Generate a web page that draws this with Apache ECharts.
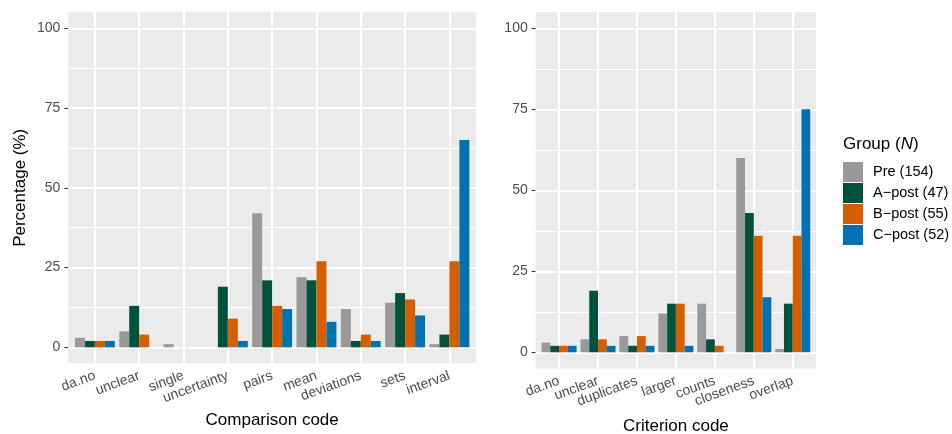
<!DOCTYPE html>
<html><head><meta charset="utf-8">
<script src="https://cdn.jsdelivr.net/npm/echarts@6/dist/echarts.min.js"></script>
<style>html,body{margin:0;padding:0;background:#fff}#c{width:952px;height:434px}</style>
</head><body><div id="c"></div>
<script>
// ---- data ----
const comparisonCodes = ['da.no','unclear','single','uncertainty','pairs','mean','deviations','sets','interval'];
const criterionCodes = ['da.no','unclear','duplicates','larger','counts','closeness','overlap'];
const groups = ['Pre (154)','A\u2212post (47)','B\u2212post (55)','C\u2212post (52)'];

const comparisonPre = [3, 5, 1, 0, 42, 22, 12, 14, 1];
const comparisonA   = [2, 13, 0, 19, 21, 21, 2, 17, 4];
const comparisonB   = [2, 4, 0, 9, 13, 27, 4, 15, 27];
const comparisonC   = [2, 0, 0, 2, 12, 8, 2, 10, 65];

const criterionPre = [3, 4, 5, 12, 15, 60, 1];
const criterionA   = [2, 19, 2, 15, 4, 43, 15];
const criterionB   = [2, 4, 5, 15, 2, 36, 36];
const criterionC   = [2, 2, 2, 2, 0, 17, 75];

const yTicks = [0, 25, 50, 75, 100];
const yMinor = [12.5, 37.5, 62.5, 87.5];

// ---- styling ----
const colors = ['#999999', '#00523C', '#D55E00', '#0072B2'];
const FONT = "'Liberation Sans', Arial, Helvetica, sans-serif";
const PANEL_BG = '#EBEBEB';

const chart = echarts.init(document.getElementById('c'), null, {renderer: 'canvas'});

const panels = [
  {bg: {left: 68.3, top: 12.3, width: 407.7, height: 351}, inset: 4.43, cats: comparisonCodes,
   vals: [comparisonPre, comparisonA, comparisonB, comparisonC], title: 'Comparison code', yName: 'Percentage (%)'},
  {bg: {left: 535.7, top: 12.1, width: 280.4, height: 356.4}, inset: 3.9, cats: criterionCodes,
   vals: [criterionPre, criterionA, criterionB, criterionC], title: 'Criterion code', yName: ''}
];

const grid = [], xAxis = [], yAxis = [], series = [];
panels.forEach((p, pi) => {
  const gBg = grid.length;
  grid.push({left: p.bg.left, top: p.bg.top, width: p.bg.width, height: p.bg.height,
    show: true, backgroundColor: PANEL_BG, borderWidth: 0, outerBoundsMode: 'none'});
  const gData = grid.length;
  grid.push({left: p.bg.left + p.inset, top: p.bg.top, width: p.bg.width - 2 * p.inset, height: p.bg.height,
    show: false, outerBoundsMode: 'none'});

  const xBg = xAxis.length;
  xAxis.push({type: 'value', gridIndex: gBg, min: 0, max: 1, show: false});
  const xData = xAxis.length;
  xAxis.push({type: 'category', gridIndex: gData, data: p.cats, boundaryGap: true,
    axisLine: {show: false},
    axisTick: {show: true, alignWithLabel: true, length: 4, lineStyle: {color: '#333333', width: 1}},
    axisLabel: {interval: 0, rotate: 20, fontSize: 14, color: '#4D4D4D', fontFamily: FONT, margin: 12},
    splitLine: {show: false},
    name: p.title, nameLocation: 'middle', nameGap: 49, nameMoveOverlap: false,
    nameTextStyle: {fontSize: 17, color: '#000', fontFamily: FONT}});

  const yBg = yAxis.length;
  yAxis.push({type: 'value', gridIndex: gBg, min: -5, max: 105,
    axisLine: {show: false},
    axisTick: {show: true, customValues: yTicks, length: 4, lineStyle: {color: '#333333', width: 1}},
    axisLabel: {customValues: yTicks, fontSize: 14, color: '#4D4D4D', fontFamily: FONT, margin: 8},
    splitLine: {show: false},
    name: p.yName, nameLocation: 'middle', nameGap: 39, nameRotate: 90, nameMoveOverlap: false,
    nameTextStyle: {fontSize: 17, color: '#000', fontFamily: FONT}});
  const yData = yAxis.length;
  yAxis.push({type: 'value', gridIndex: gData, min: -5, max: 105, show: false});

  // horizontal gridlines (bg grid)
  series.push({type: 'line', xAxisIndex: xBg, yAxisIndex: yBg, data: [], silent: true,
    markLine: {silent: true, symbol: 'none', z: 1, animation: false, label: {show: false},
      data: yTicks.map(v => ({yAxis: v, lineStyle: {color: '#fff', width: 2, type: 'solid'}}))
        .concat(yMinor.map(v => ({yAxis: v, lineStyle: {color: '#fff', width: 1, type: 'solid'}})))}});
  // vertical gridlines at category centres (data grid)
  series.push({type: 'line', xAxisIndex: xData, yAxisIndex: yData, data: [], silent: true,
    markLine: {silent: true, symbol: 'none', z: 1, animation: false, label: {show: false},
      data: p.cats.map((c, i) => ({xAxis: i, lineStyle: {color: '#fff', width: 2, type: 'solid'}}))}});

  groups.forEach((g, gi) => {
    series.push({type: 'bar', name: g, xAxisIndex: xData, yAxisIndex: yData, data: p.vals[gi],
      barGap: '0%', barCategoryGap: '10%', z: 2,
      itemStyle: {color: colors[gi]}, emphasis: {disabled: true}});
  });
});

chart.setOption({
  animation: false,
  textStyle: {fontFamily: FONT},
  title: {text: '{a|Group (}{b|N}{a|)}', left: 843, top: 136, padding: 0,
    textStyle: {fontWeight: 'normal', rich: {a: {fontSize: 17, color: '#000', fontFamily: FONT, fontWeight: 'normal'},
                       b: {fontSize: 17, color: '#000', fontStyle: 'italic', fontWeight: 'normal', fontFamily: FONT}}}},
  legend: {orient: 'vertical', left: 843, top: 162, padding: 0, itemWidth: 20, itemHeight: 20, itemGap: 1,
    icon: 'rect', selectedMode: false, data: groups,
    textStyle: {fontSize: 14.5, color: '#000', fontFamily: FONT, padding: [0, 0, 0, 5]}},
  grid, xAxis, yAxis, series
});
</script></body></html>
